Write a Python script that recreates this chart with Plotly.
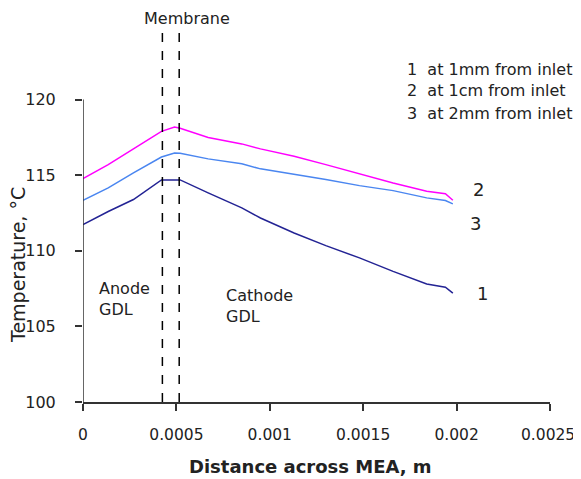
import plotly.graph_objects as go

# Distance across MEA (m)
distance = [0, 0.000135, 0.00027, 0.00042, 0.00049, 0.00052, 0.00067, 0.00085,
            0.00095, 0.00113, 0.0013, 0.00148, 0.00166, 0.00184, 0.00194, 0.00198]

# Temperature (°C)
temp_1mm = [111.73, 112.6, 113.39, 114.69, 114.69, 114.69, 113.83, 112.84,
            112.17, 111.18, 110.34, 109.53, 108.64, 107.81, 107.59, 107.2]
temp_1cm = [114.78, 115.7, 116.74, 117.9, 118.19, 118.1, 117.5, 117.07,
            116.74, 116.25, 115.7, 115.09, 114.49, 113.94, 113.78, 113.34]
temp_2mm = [113.34, 114.16, 115.15, 116.2, 116.47, 116.45, 116.08, 115.75,
            115.42, 115.08, 114.71, 114.31, 113.98, 113.5, 113.32, 113.1]

membrane_edges = [0.000425, 0.000515]

xticks = [0, 0.0005, 0.001, 0.0015, 0.002, 0.0025]
xticktext = ["0", "0.0005", "0.001", "0.0015", "0.002", "0.0025"]
yticks = [100, 105, 110, 115, 120]

FONT = "DejaVu Sans, Liberation Sans, Arial, sans-serif"

# The page body has an 8px default margin; compensate so the plot lands
# at the intended window pixels.
OFF = 8
W, H = 581 - OFF, 479 - OFF
PL, PR, PT, PB = 83, 550, 24, 402   # plot area in window pixels

fig = go.Figure()
fig.add_trace(go.Scatter(x=distance, y=temp_1cm, mode="lines",
                         line=dict(color="#ff00ff", width=1.5), name="2"))
fig.add_trace(go.Scatter(x=distance, y=temp_2mm, mode="lines",
                         line=dict(color="#4a86f0", width=1.5), name="3"))
fig.add_trace(go.Scatter(x=distance, y=temp_1mm, mode="lines",
                         line=dict(color="#232394", width=1.5), name="1"))

for xe in membrane_edges:
    fig.add_shape(type="line", xref="x", yref="y", x0=xe, x1=xe, y0=100, y1=124.6,
                  line=dict(color="black", width=1.5, dash="dash"))

# y axis line (only spans 100-120)
fig.add_shape(type="line", xref="x", yref="y", x0=0, x1=0, y0=100, y1=120,
              line=dict(color="#333333", width=1.5))

def px2x(px):
    return (px - PL) / float(PR - PL)

def py2y(py):
    return (PB - py) / float(PB - PT)

ann = []
ann.append(dict(text="Membrane", x=px2x(187), y=py2y(18), xanchor="center", yanchor="middle",
                font=dict(size=16)))
legend_lines = ["1  at 1mm from inlet", "2  at 1cm from inlet", "3  at 2mm from inlet"]
for i, t in enumerate(legend_lines):
    ann.append(dict(text=t, x=px2x(405), y=py2y(69 + 22 * i), xanchor="left", yanchor="middle",
                    font=dict(size=16)))
ann.append(dict(text="2", x=px2x(478), y=py2y(189), xanchor="center", yanchor="middle", font=dict(size=18)))
ann.append(dict(text="3", x=px2x(475), y=py2y(223), xanchor="center", yanchor="middle", font=dict(size=18)))
ann.append(dict(text="1", x=px2x(482), y=py2y(293), xanchor="center", yanchor="middle", font=dict(size=18)))
ann.append(dict(text="Anode<br>GDL", x=px2x(97), y=py2y(299), xanchor="left", yanchor="middle",
                align="left", font=dict(size=16)))
ann.append(dict(text="Cathode<br>GDL", x=px2x(224), y=py2y(306), xanchor="left", yanchor="middle",
                align="left", font=dict(size=16)))
ann.append(dict(text="Temperature, °C", x=px2x(18), y=py2y(265), xanchor="center", yanchor="middle",
                textangle=-90, font=dict(size=19)))
ann.append(dict(text="<b>Distance across MEA, m</b>", x=px2x(310), y=py2y(466), xanchor="center",
                yanchor="middle", font=dict(size=18)))
# last x tick label placed explicitly so it stays inside the window
ann.append(dict(text=xticktext[-1], x=px2x(577), y=py2y(435), xanchor="right", yanchor="middle",
                font=dict(size=15.5)))
for a in ann:
    a.update(xref="paper", yref="paper", showarrow=False)

fig.update_layout(
    width=W, height=H,
    margin=dict(l=PL - OFF, r=W - (PR - OFF), t=PT - OFF, b=H - (PB - OFF), autoexpand=False),
    paper_bgcolor="white", plot_bgcolor="white",
    font=dict(family=FONT, color="#222222", size=16),
    showlegend=False,
    annotations=ann,
    xaxis=dict(range=[0, 0.0025], tickvals=xticks, ticktext=xticktext[:-1] + [""], automargin=False,
               showline=True, linecolor="#333333", linewidth=1.5,
               ticks="outside", ticklen=7, tickwidth=1.5, tickcolor="#333333",
               ticklabelstandoff=11, showgrid=False, zeroline=False,
               tickfont=dict(size=15.5)),
    yaxis=dict(range=[100, 125], tickvals=yticks, automargin=False,
               showline=False, ticks="outside", ticklen=7, tickwidth=1.5, tickcolor="#333333",
               ticklabelstandoff=16, showgrid=False, zeroline=False,
               tickfont=dict(size=16)),
)

fig.write_html("out.html", post_script="document.body.style.overflow='hidden';")
